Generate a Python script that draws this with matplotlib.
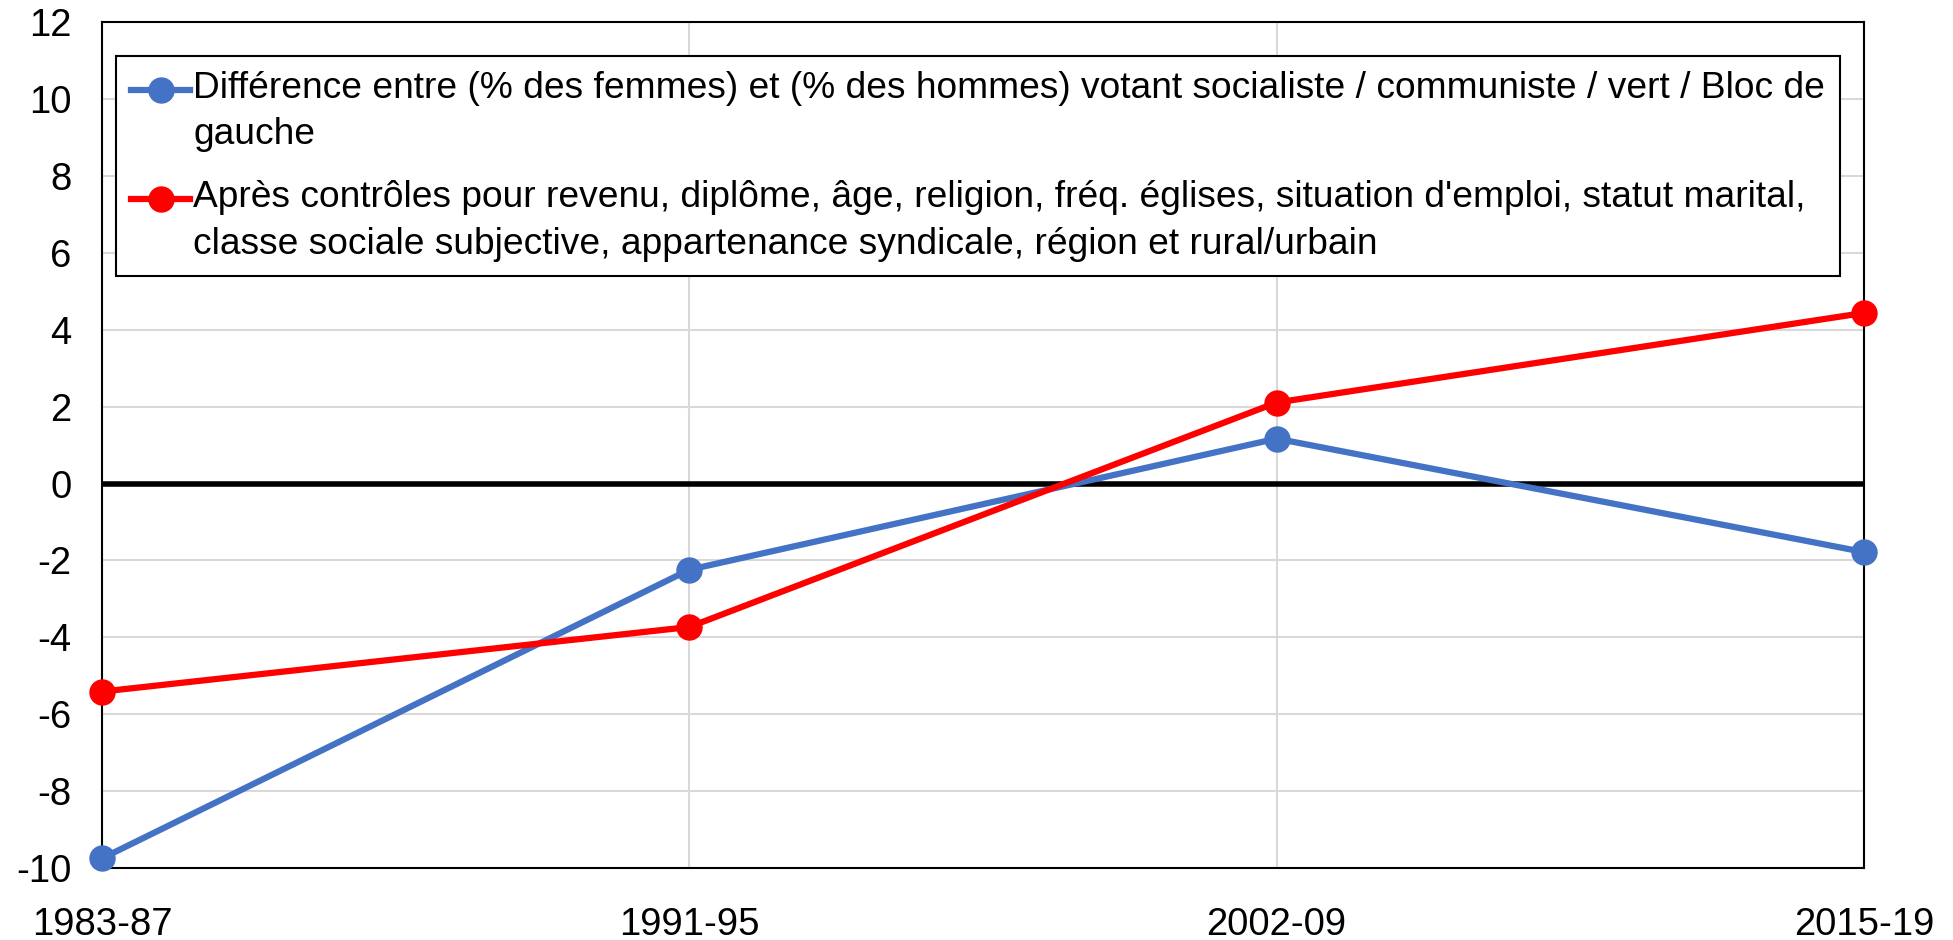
import matplotlib.pyplot as plt
from matplotlib.legend_handler import HandlerLine2D

plt.rcParams['font.family'] = ['Liberation Sans', 'DejaVu Sans']
plt.rcParams['axes.unicode_minus'] = False

periods = ["1983-87", "1991-95", "2002-09", "2015-19"]
raw_gap = [-9.75, -2.24, 1.17, -1.78]
controlled_gap = [-5.41, -3.73, 2.11, 4.44]

label_raw = ("Différence entre (% des femmes) et (% des hommes) votant socialiste / communiste / vert / Bloc de\n"
             "gauche")
label_ctrl = ("Après contrôles pour revenu, diplôme, âge, religion, fréq. églises, situation d'emploi, statut marital,\n"
              "classe sociale subjective, appartenance syndicale, région et rural/urbain")


# put the legend marker next to the first line of a 2-line label (like Excel)
class FirstLineHandler(HandlerLine2D):
    def create_artists(self, legend, orig_handle, xdescent, ydescent, width, height, fontsize, trans):
        return super().create_artists(legend, orig_handle, xdescent, ydescent - 1.2 * fontsize,
                                      width, height, fontsize, trans)


fig = plt.figure(figsize=(19.53, 9.40), dpi=100)
ax = fig.add_axes([0.0522, 0.0766, 0.9022, 0.8996])

x = range(len(periods))
ax.plot(x, raw_gap, color="#4472c4", lw=4.5, marker="o", ms=18, clip_on=False, zorder=4, label=label_raw)
ax.plot(x, controlled_gap, color="#ff0000", lw=4.5, marker="o", ms=18, clip_on=False, zorder=5, label=label_ctrl)
ax.axhline(0, color="black", lw=4, zorder=3)

ax.set_xlim(0, 3)
ax.set_ylim(-10, 12)
ax.set_yticks(range(-10, 13, 2))
ax.set_xticks(list(x))
ax.set_xticklabels(periods)
ax.grid(True, color="#d9d9d9", lw=1.5)
ax.set_axisbelow(True)
for s in ax.spines.values():
    s.set_color("black")
    s.set_linewidth(1.5)
ax.tick_params(axis="both", length=0, labelsize=27.5)
ax.tick_params(axis="x", pad=28)
ax.tick_params(axis="y", pad=22)

leg = ax.legend(loc="upper left", bbox_to_anchor=(0.008, 0.960), borderaxespad=0,
                fontsize=26.7, handlelength=1.6, handletextpad=0.08, labelspacing=0.75,
                fancybox=False, edgecolor="black", framealpha=1, borderpad=0.4,
                handler_map={plt.Line2D: FirstLineHandler()})
leg.get_frame().set_linewidth(1.5)
for t in leg.get_texts():
    t.set_linespacing(1.42)

fig.savefig("out.png", dpi=100)
